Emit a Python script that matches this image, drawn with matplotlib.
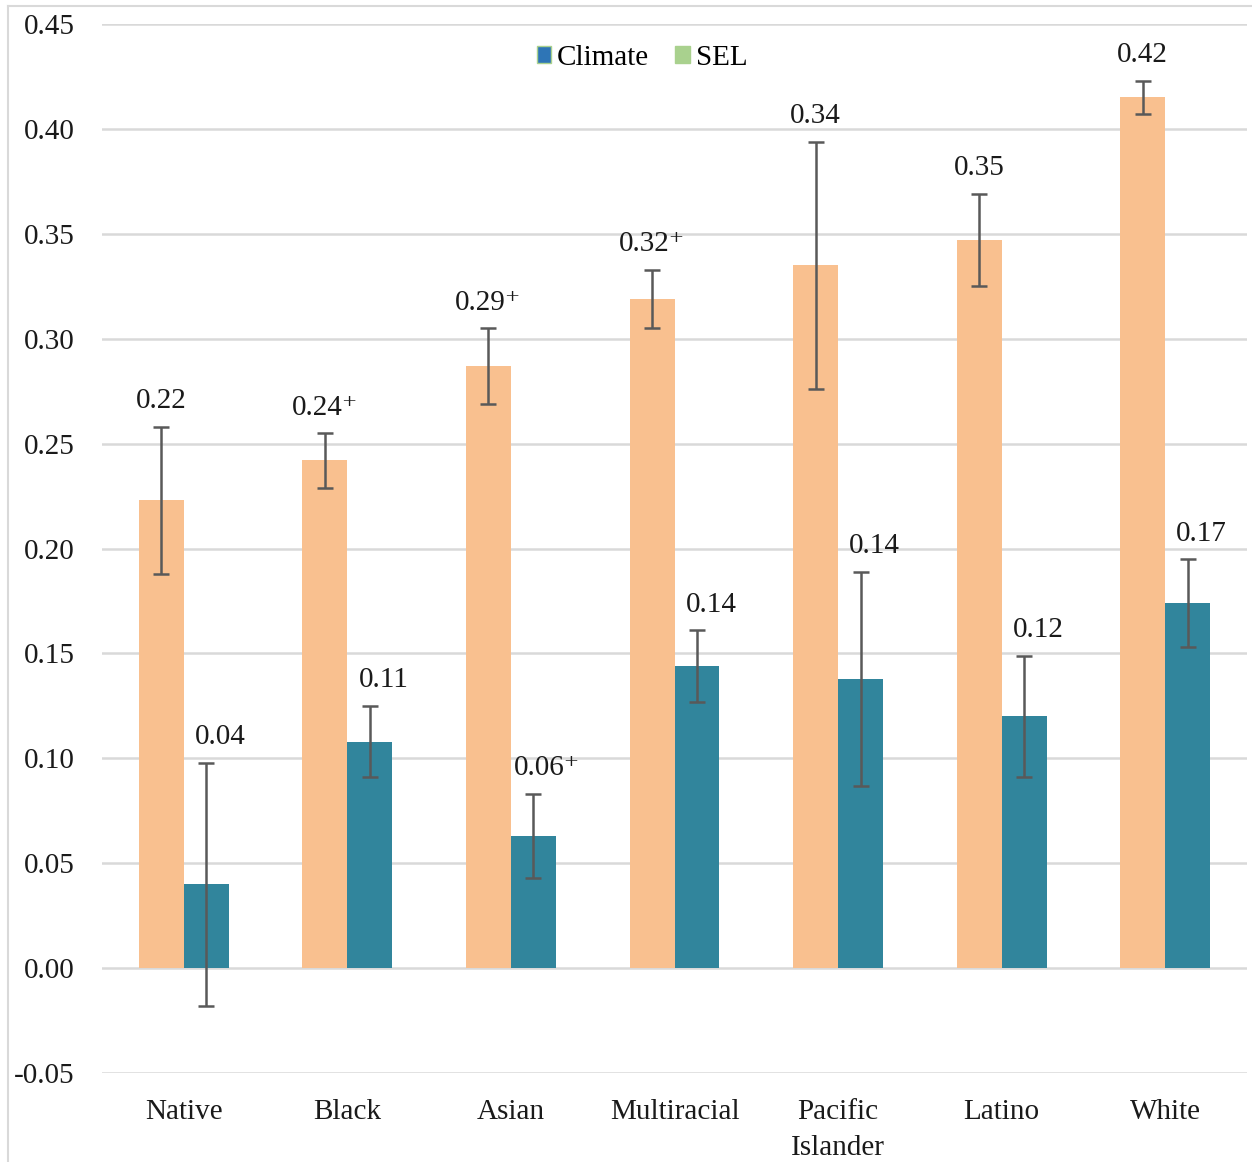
import matplotlib
matplotlib.use("Agg")
import matplotlib.pyplot as plt
from matplotlib.patches import Patch
from matplotlib.lines import Line2D
import numpy as np

plt.rcParams['font.family'] = ['Liberation Serif', 'DejaVu Serif']

categories = ["Native", "Black", "Asian", "Multiracial", "Pacific\nIslander", "Latino", "White"]
climate = [0.223, 0.242, 0.287, 0.319, 0.335, 0.347, 0.415]
climate_lo = [0.188, 0.229, 0.269, 0.305, 0.276, 0.325, 0.407]
climate_hi = [0.258, 0.255, 0.305, 0.333, 0.394, 0.369, 0.423]
climate_labels = ["0.22", "0.24\u207a", "0.29\u207a", "0.32\u207a", "0.34", "0.35", "0.42"]
sel = [0.040, 0.108, 0.063, 0.144, 0.138, 0.120, 0.174]
sel_lo = [-0.018, 0.091, 0.043, 0.127, 0.087, 0.091, 0.153]
sel_hi = [0.098, 0.125, 0.083, 0.161, 0.189, 0.149, 0.195]
sel_labels = ["0.04", "0.11", "0.06\u207a", "0.14", "0.14", "0.12", "0.17"]
yticks = [-0.05, 0.00, 0.05, 0.10, 0.15, 0.20, 0.25, 0.30, 0.35, 0.40, 0.45]

fig = plt.figure(figsize=(12.52, 11.62), dpi=100)
ax = fig.add_axes([0.0815, 0.0766, 0.9145, 0.9027])

x = np.arange(len(categories))
w = 0.275
orange = "#f9c08f"
teal = "#31859c"
ecol = "#595959"
tcol = "#1a1a1a"
fs = 21

climate = np.array(climate); sel = np.array(sel)
c_err = [climate - np.array(climate_lo), np.array(climate_hi) - climate]
s_err = [sel - np.array(sel_lo), np.array(sel_hi) - sel]

ax.bar(x - w/2, climate, w, color=orange, zorder=2)
ax.bar(x + w/2, sel, w, color=teal, zorder=2)
ax.errorbar(x - w/2, climate, yerr=c_err, fmt='none', ecolor=ecol, elinewidth=1.8,
            capsize=6, capthick=1.8, zorder=3)
ax.errorbar(x + w/2, sel, yerr=s_err, fmt='none', ecolor=ecol, elinewidth=1.8,
            capsize=6, capthick=1.8, zorder=3)

for i in range(len(categories)):
    ax.annotate(climate_labels[i], (x[i] - w/2, climate_hi[i]), xytext=(0, 9),
                textcoords='offset points', ha='center', va='bottom', fontsize=fs, color=tcol)
    ax.annotate(sel_labels[i], (x[i] + w/2, sel_hi[i]), xytext=(10, 9),
                textcoords='offset points', ha='center', va='bottom', fontsize=fs, color=tcol)

ax.set_xlim(-0.5, len(categories) - 0.5)
ax.set_ylim(-0.05, 0.45)
ax.set_yticks(yticks)
ax.set_yticklabels([f"{v:.2f}" for v in yticks], fontsize=fs, color=tcol)
ax.set_xticks(x)
ax.set_xticklabels(categories, fontsize=fs, color=tcol, linespacing=1.5)
ax.tick_params(axis='both', length=0)
ax.tick_params(axis='y', pad=19.5)
ax.tick_params(axis='x', pad=19)
ax.grid(axis='y', color='#d9d9d9', linewidth=1.8, zorder=0)
ax.set_axisbelow(True)
for s in ax.spines.values():
    s.set_visible(False)

handles = [Patch(facecolor='#2e75b6', edgecolor='#a9d18e', linewidth=1.0, label='Climate'),
           Patch(facecolor='#a9d18e', edgecolor='#a9d18e', label='SEL')]
leg = ax.legend(handles=handles, loc='upper center', bbox_to_anchor=(0.4716, 1.005), ncol=2,
                frameon=False, fontsize=fs, handlelength=0.5, handleheight=0.5,
                handletextpad=0.2, columnspacing=0.9)

# figure border lines (top and left)
W, H = 1252, 1162
fig.add_artist(Line2D([8/W, 1.0], [1 - 6/H, 1 - 6/H], color='#d9d9d9', linewidth=1.5))
fig.add_artist(Line2D([8/W, 8/W], [0, 1 - 6/H], color='#d9d9d9', linewidth=1.5))

fig.savefig("out.png", dpi=100)
